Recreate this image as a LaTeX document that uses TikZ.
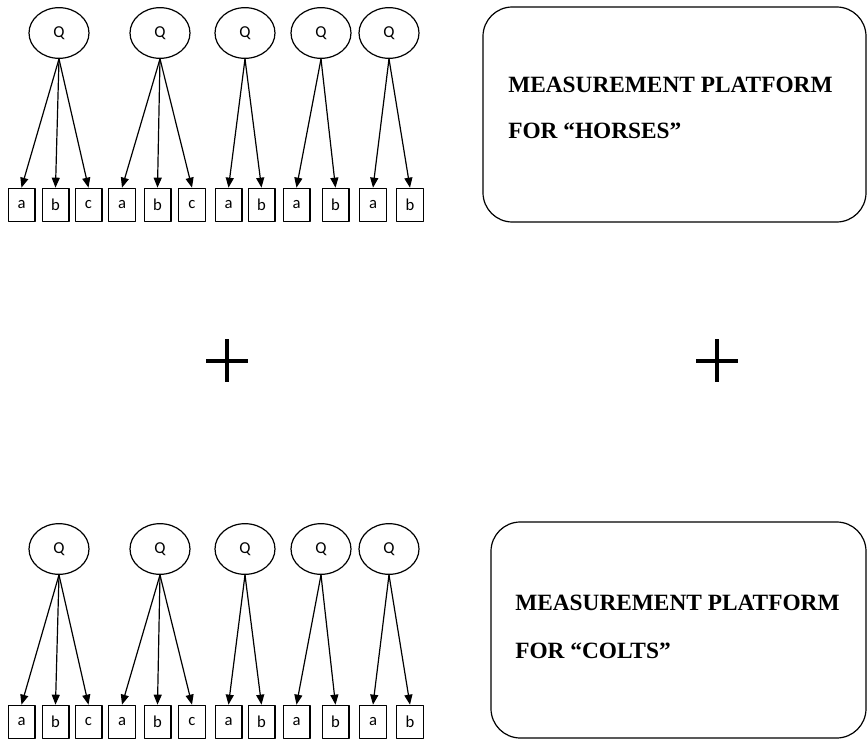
\documentclass[tikz,border=0pt]{standalone}
\usepackage{fontspec}
\setmainfont{Liberation Serif}
\newfontfamily\calibri{Carlito}
\usetikzlibrary{arrows.meta,shapes.geometric}
\begin{document}
\begin{tikzpicture}[x=0.75pt, y=-0.75pt, line join=round, >={Triangle[length=7.5pt,width=6pt]},
	latent/.style={ellipse, draw, line width=0.9pt, minimum width=45pt, minimum height=38pt, inner sep=0pt, font=\calibri\fontsize{12.5}{12.5}\selectfont},
	obs/.style={rectangle, draw, line width=1pt, minimum width=20pt, minimum height=25pt, inner sep=0pt, font=\calibri\fontsize{12.5}{12.5}\selectfont},
	platform/.style={draw, line width=0.9pt, rounded corners=22pt},
	caption/.style={anchor=base west, inner sep=0pt, font=\bfseries\fontsize{17.5}{17.5}\selectfont},
	plus/.style={line width=3pt}]
	\useasboundingbox (0,0) rectangle (868,742);
	% Hai hàng mô hình: tên hàng / tung độ của Q / tung độ của các ô
	\foreach \rw/\qy/\by in {t/33/205, b/549/722}{
		% Các biến ẩn Q
		\foreach \i/\x in {1/59, 2/160, 3/245, 4/321, 5/389}
		\node[latent] (\rw q\i) at (\x,\qy) {Q};
		% Các chỉ báo
		\foreach \j/\x/\t in {1/21.5/a, 2/55.5/b, 3/88.5/c, 4/122/a, 5/157.5/b, 6/192/c,
			7/228.5/a, 8/261.5/b, 9/296.5/a, 10/335.5/b, 11/373/a, 12/410/b}
		\node[obs] (\rw x\j) at (\x,\by) {\t};
		% Mũi tên từ Q xuống các ô
		\foreach \i/\j in {1/1, 1/2, 1/3, 2/4, 2/5, 2/6, 3/7, 3/8, 4/9, 4/10, 5/11, 5/12}
		\draw[->, line width=0.9pt] (\rw q\i.south) -- (\rw x\j.north);
	}
	% Khung "platform"
	\draw[platform] (483,7) rectangle (866,222);
	\node[caption] (tcap1) at (508,93) {MEASUREMENT PLATFORM};
	\node[caption] (tcap2) at (508,138) {FOR “HORSES”};
	\draw[platform] (491,522) rectangle (866,738);
	\node[caption] (bcap1) at (515,610) {MEASUREMENT PLATFORM};
	\node[caption] (bcap2) at (515,658) {FOR “COLTS”};
	% Dấu cộng
	\foreach \x in {227, 717}
	\draw[plus] (\x-21,361) -- (\x+21,361) (\x,339) -- (\x,382);
\end{tikzpicture}
\end{document}
